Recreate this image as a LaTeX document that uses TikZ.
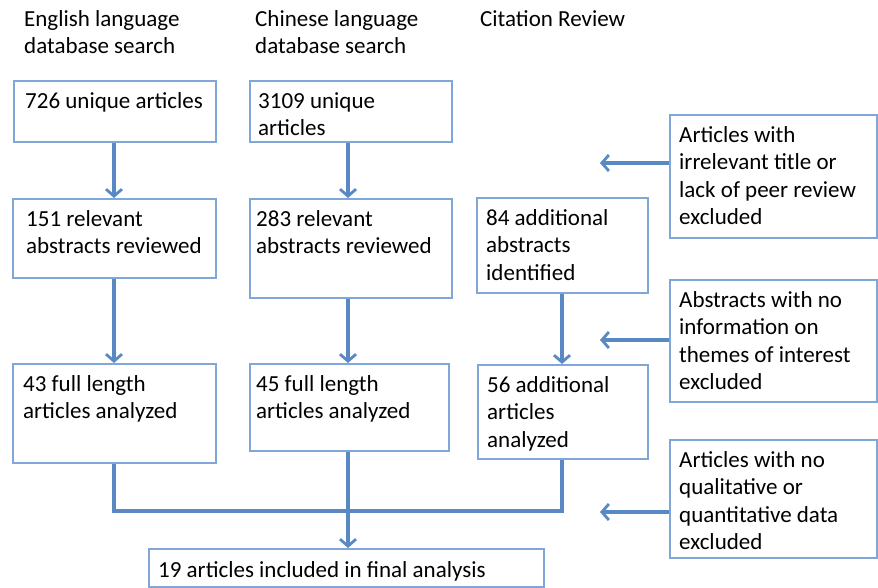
\documentclass[tikz,border=0pt]{standalone}
\usepackage{fontspec}
\setmainfont{Carlito}
\usetikzlibrary{arrows.meta,calc}
\definecolor{arrowblue}{RGB}{88,137,197}
\definecolor{boxblue}{RGB}{128,167,216}
\tikzset{
  box/.style={draw=boxblue, line width=1.5pt, fill=white, inner sep=0pt},
  txt/.style={anchor=north west, inner sep=0pt, align=left, font=\fontsize{23}{27.5}\selectfont},
  conn/.style={draw=arrowblue, line width=3.2pt},
  arr/.style={conn, -{Straight Barb[length=7pt,width=16pt,line width=2.8pt]}}
}
\begin{document}
\begin{tikzpicture}[x=1pt,y=-1pt]
\useasboundingbox (0,0) rectangle (878,587);
% headers
\node[txt] (h1) at (24,6.75) {\strut English language\\database search};
\node[txt] (h2) at (255,6.75) {\strut Chinese language\\database search};
\node[txt] (h3) at (480,6.75) {\strut Citation Review};
% boxes
\node[box, minimum width=202pt, minimum height=61pt, anchor=north west] (A1) at (13,80) {};
\node[txt] (A1t) at (25,88.75) {\strut 726 unique articles};
\node[box, minimum width=202pt, minimum height=61pt, anchor=north west] (B1) at (249,80) {};
\node[txt] (B1t) at (258,88.75) {\strut 3109 unique\\articles};
\node[box, minimum width=203pt, minimum height=79pt, anchor=north west] (A2) at (12,198) {};
\node[txt] (A2t) at (26,206.75) {\strut 151 relevant\\abstracts reviewed};
\node[box, minimum width=202pt, minimum height=99pt, anchor=north west] (B2) at (249,198) {};
\node[txt] (B2t) at (256,206.75) {\strut 283 relevant\\abstracts reviewed};
\node[box, minimum width=171pt, minimum height=95pt, anchor=north west] (C2) at (476,197) {};
\node[txt] (C2t) at (486,205.75) {\strut 84 additional\\abstracts\\identified};
\node[box, minimum width=207pt, minimum height=123pt, anchor=north west] (R1) at (669,114) {};
\node[txt] (R1t) at (679,122.75) {\strut Articles with\\irrelevant title or\\lack of peer review\\excluded};
\node[box, minimum width=203pt, minimum height=99pt, anchor=north west] (A3) at (12,363) {};
\node[txt] (A3t) at (23,371.75) {\strut 43 full length\\articles analyzed};
\node[box, minimum width=199pt, minimum height=87pt, anchor=north west] (B3) at (249,363) {};
\node[txt] (B3t) at (256,371.75) {\strut 45 full length\\articles analyzed};
\node[box, minimum width=170pt, minimum height=94pt, anchor=north west] (C3) at (477,364) {};
\node[txt] (C3t) at (487,372.75) {\strut 56 additional\\articles\\analyzed};
\node[box, minimum width=207pt, minimum height=122pt, anchor=north west] (R2) at (669,279) {};
\node[txt] (R2t) at (679,287.75) {\strut Abstracts with no\\information on\\themes of interest\\excluded};
\node[box, minimum width=207pt, minimum height=118pt, anchor=north west] (R3) at (669,439) {};
\node[txt] (R3t) at (679,447.75) {\strut Articles with no\\qualitative or\\quantitative data\\excluded};
\node[box, minimum width=395pt, minimum height=38pt, anchor=north west] (F) at (148,548) {};
\node[txt] (Ft) at (158,557.75) {\strut 19 articles included in final analysis};
% coordinates
\coordinate (t1) at (600,163);
\coordinate (t2) at (600,340);
\coordinate (t3) at (600,512);
\coordinate (m) at (0,511);
\coordinate (xa) at (114,0);
\coordinate (xb) at (348,0);
\coordinate (xc) at (562,0);
% connectors
\draw[arr] (A1.south -| xa) -- (A2.north -| xa);
\draw[arr] (A2.south -| xa) -- (A3.north -| xa);
\draw[arr] (B1.south -| xb) -- (B2.north -| xb);
\draw[arr] (B2.south -| xb) -- (B3.north -| xb);
\draw[arr] (C2.south -| xc) -- (C3.north -| xc);
\draw[conn] (A3.south -| xa) -- (xa |- m) -- (xc |- m) -- (C3.south -| xc);
\draw[arr] (B3.south -| xb) -- (F.north -| xb);
\draw[arr] (R1.west |- t1) -- (t1);
\draw[arr] (R2.west |- t2) -- (t2);
\draw[arr] (R3.west |- t3) -- (t3);
\end{tikzpicture}
\end{document}
